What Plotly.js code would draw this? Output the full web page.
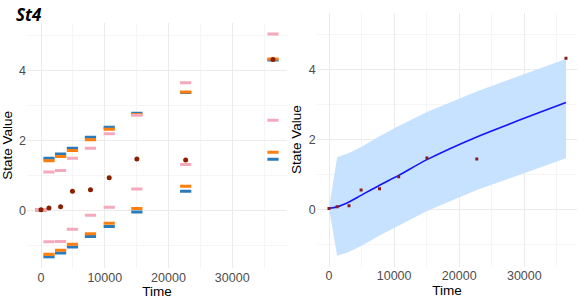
<!DOCTYPE html>
<html><head><meta charset="utf-8">
<script src="https://cdn.plot.ly/plotly-3.0.1.min.js"></script>
<style>html,body{margin:0;padding:0;background:#fff}#chart{width:581px;height:300px}</style>
</head><body><div id="chart"></div>
<script>
// Data
const times      = [0, 1250, 3070, 4930, 7760, 10700, 15040, 22700, 36400];
const observed   = [0.02, 0.07, 0.10, 0.55, 0.59, 0.93, 1.47, 1.44, 4.32];
const blueUpper  = [0.02, 1.49, 1.61, 1.78, 2.09, 2.38, 2.78, 3.37, 4.30];
const blueLower  = [0.02, -1.33, -1.22, -1.05, -0.75, -0.46, -0.05, 0.55, 1.46];
const orangeUpper= [0.02, 1.42, 1.54, 1.71, 2.02, 2.32, 2.74, 3.39, 4.33];
const orangeLower= [0.02, -1.26, -1.14, -0.97, -0.67, -0.37, 0.05, 0.69, 1.66];
const pinkUpper  = [0.02, 1.10, 1.14, 1.49, 1.78, 2.19, 2.72, 3.65, 5.05];
const pinkLower  = [0.02, -0.90, -0.89, -0.54, -0.14, 0.09, 0.61, 1.31, 2.58];
const meanLine   = [0.03, 0.07, 0.21, 0.40, 0.69, 0.97, 1.42, 2.07, 3.05];

const BLUE='#2b7bba', ORANGE='#ff7f0e', PINK='#f5a9bc', DOT='#8b2000';
function dash(y, color, name){
  return {x: times, y: y, type:'scatter', mode:'markers', xaxis:'x', yaxis:'y', name:name,
    marker:{symbol:'line-ew', size:8, line:{color:color, width:3}}, hoverinfo:'skip'};
}
const traces = [
  dash(blueUpper, BLUE,'bu'), dash(blueLower, BLUE,'bl'),
  dash(orangeUpper, ORANGE,'ou'), dash(orangeLower, ORANGE,'ol'),
  dash(pinkUpper, PINK,'pu'), dash(pinkLower, PINK,'pl'),
  {x: times, y: observed, type:'scatter', mode:'markers', xaxis:'x', yaxis:'y',
   marker:{size:5, color:DOT}},
  // right panel
  {x: times, y: blueLower, type:'scatter', mode:'lines', xaxis:'x2', yaxis:'y2',
   line:{width:0, color:'rgba(0,0,0,0)'}},
  {x: times, y: blueUpper, type:'scatter', mode:'lines', xaxis:'x2', yaxis:'y2',
   fill:'tonexty', fillcolor:'#c6e2ff', line:{width:0, color:'rgba(0,0,0,0)'}},
  {x: times, y: meanLine, type:'scatter', mode:'lines', xaxis:'x2', yaxis:'y2',
   line:{color:'#1414ff', width:1.6, shape:'spline', smoothing:0.8}},
  {x: times, y: observed, type:'scatter', mode:'markers', xaxis:'x2', yaxis:'y2',
   marker:{size:3, color:'#8b1a1a', symbol:'square'}}
];
const tickfont = {family:'Liberation Sans, Arial, sans-serif', size:12.5, color:'#4d4d4d'};
const titlefont = {family:'Liberation Sans, Arial, sans-serif', size:13.5, color:'#000'};
function xax(domain, range){
  return {domain:domain, range:range, tickvals:[0,10000,20000,30000], ticktext:['0','10000','20000','30000'],
    showgrid:true, gridcolor:'#ebebeb', gridwidth:1, zeroline:false, showline:false, ticks:'',
    minor:{tickvals:[5000,15000,25000,35000], showgrid:true, gridcolor:'#f5f5f5', gridwidth:1},
    tickfont:tickfont, title:{text:'Time', font:titlefont, standoff:2}, fixedrange:true};
}
function yax(domain, range, anchor){
  return {domain:domain, range:range, anchor:anchor, tickvals:[0,2,4], ticktext:['0','2','4'],
    showgrid:true, gridcolor:'#ebebeb', gridwidth:1, zeroline:false, showline:false, ticks:'',
    minor:{tickvals:[-1,1,3,5], showgrid:true, gridcolor:'#f5f5f5', gridwidth:1},
    tickfont:tickfont, title:{text:'State Value', font:titlefont, standoff:4}, fixedrange:true};
}
const layout = {
  width:581, height:300, margin:{l:0,r:0,t:0,b:0}, showlegend:false,
  paper_bgcolor:'#fff', plot_bgcolor:'#fff',
  annotations:[{text:'<b><i>St4</i></b>', xref:'paper', yref:'paper', x:14/581, xanchor:'left',
    y:1-1/300, yanchor:'top', showarrow:false,
    font:{family:'Open Sans, Liberation Sans, sans-serif', size:17, color:'#000'}}],
  xaxis: xax([27/581, 287/581], [-2200, 38600]),
  yaxis: yax([(300-268)/300, (300-22.7)/300], [-1.65, 5.37], 'x'),
  xaxis2: xax([316.7/581, 577.3/581], [-1890, 38140]),
  yaxis2: yax([(300-266.7)/300, (300-12.7)/300], [-1.64, 5.62], 'x2')
};
layout.xaxis.anchor='y'; layout.xaxis2.anchor='y2';
Plotly.newPlot('chart', traces, layout, {displayModeBar:false, staticPlot:true});
</script></body></html>
